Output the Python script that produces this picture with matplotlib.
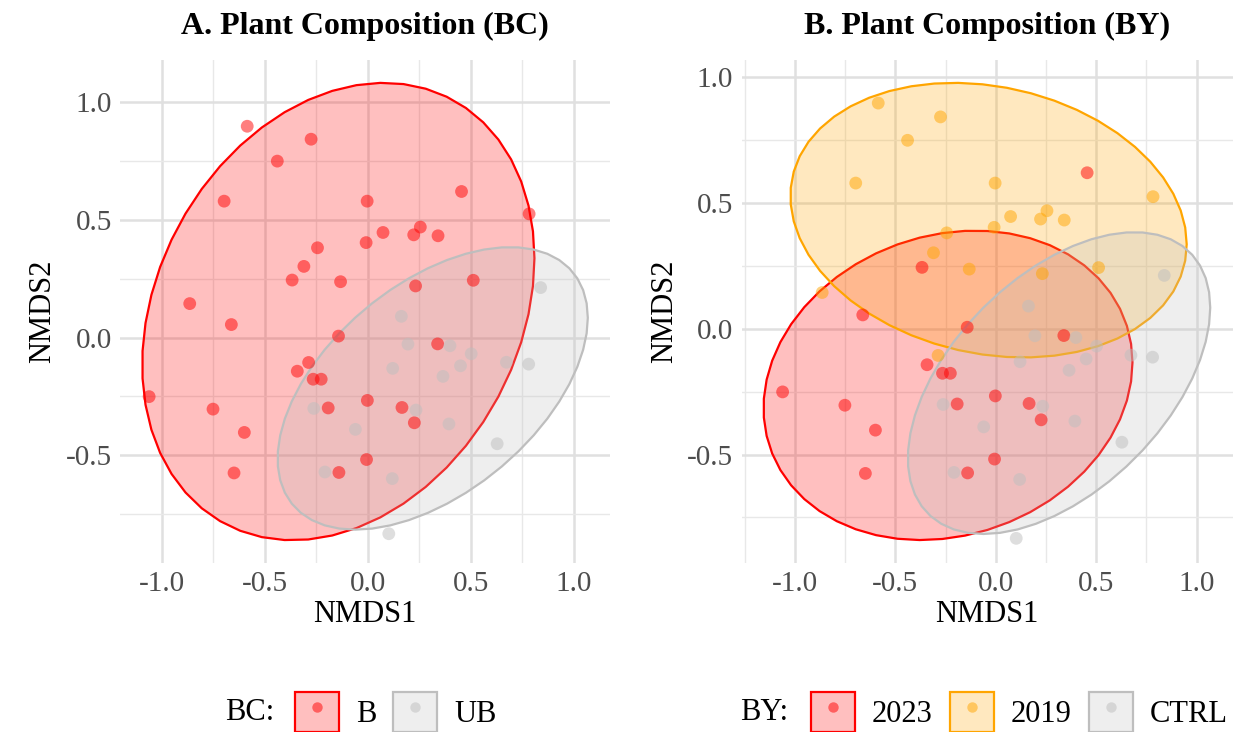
import numpy as np
import matplotlib
matplotlib.use("Agg")
import matplotlib.pyplot as plt
from matplotlib.patches import Patch, Polygon
from matplotlib.lines import Line2D
from matplotlib.legend_handler import HandlerTuple
from matplotlib.ticker import MultipleLocator

plt.rcParams['font.family'] = ['Liberation Serif', 'DejaVu Serif']
plt.rcParams['axes.unicode_minus'] = False

# NMDS scores
x_2019 = [-0.585, -0.275, -0.439, -0.697, -0.003, 0.074, 0.223, 0.255, 0.341,
          -0.008, -0.244, -0.310, -0.132, -0.864, 0.512, 0.232, -0.287, 0.783]
y_2019 = [0.897, 0.842, 0.749, 0.579, 0.579, 0.446, 0.436, 0.469, 0.432,
          0.403, 0.381, 0.302, 0.237, 0.144, 0.243, 0.219, -0.106, 0.525]

x_2023 = [0.455, -0.367, -0.662, -0.142, 0.339, -0.342, -0.265, -0.226, -0.192,
          -0.002, 0.166, 0.226, -0.006, -0.140, -1.061, -0.751, -0.599, -0.649]
y_2023 = [0.620, 0.244, 0.055, 0.006, -0.027, -0.143, -0.177, -0.177, -0.299,
          -0.267, -0.297, -0.362, -0.518, -0.573, -0.251, -0.304, -0.403, -0.575]

x_ctrl = [0.839, 0.163, 0.195, 0.399, 0.502, 0.450, 0.673, 0.781, 0.121,
          0.365, -0.262, 0.234, 0.394, -0.060, 0.628, -0.208, 0.119, 0.102]
y_ctrl = [0.212, 0.090, -0.028, -0.035, -0.069, -0.120, -0.105, -0.113, -0.131,
          -0.165, -0.301, -0.308, -0.367, -0.390, -0.451, -0.571, -0.599, -0.833]

bc_labels = ["B", "UB"]
bc_colors = ["#FF0000", "#BEBEBE"]
by_labels = ["2023", "2019", "CTRL"]
by_colors = ["#FF0000", "#FFA500", "#BEBEBE"]


def cov_trob(xy, nu=5, maxit=25, tol=0.01):
    # same as MASS::cov.trob, used by ggplot stat_ellipse (type = "t")
    n, p = xy.shape
    loc = xy.mean(axis=0)
    w = np.ones(n)
    for _ in range(maxit):
        w0 = w
        X = xy - loc
        _, d, vt = np.linalg.svd(np.sqrt(w / w.sum())[:, None] * X, full_matrices=False)
        wX = X @ vt.T @ np.diag(1 / d)
        Q = (wX ** 2).sum(axis=1)
        w = (nu + p) / (nu + Q)
        loc = (w[:, None] * xy).sum(axis=0) / w.sum()
        if np.all(np.abs(w - w0) < tol):
            break
    sX = np.sqrt(w)[:, None] * X
    return loc, sX.T @ sX / n


def ellipse_path(x, y, level=0.95, segments=51):
    xy = np.column_stack([x, y])
    center, shape = cov_trob(xy)
    m = len(x) - 1
    fq = (m / 2) * ((1 - level) ** (-2 / m) - 1)
    radius = np.sqrt(2 * fq)
    ang = np.linspace(0, 2 * np.pi, segments + 1)
    circle = np.column_stack([np.cos(ang), np.sin(ang)])
    L = np.linalg.cholesky(shape)
    return center + radius * (circle @ L.T)


def panel(ax, groups, colors, title):
    allpts = []
    for (gx, gy), col in zip(groups, colors):
        path = ellipse_path(gx, gy)
        ax.add_patch(Polygon(path, closed=True, facecolor=matplotlib.colors.to_rgba(col, 0.25),
                             edgecolor=col, lw=1.6, zorder=2))
        allpts.append(path)
    for (gx, gy), col in zip(groups, colors):
        ax.scatter(gx, gy, s=85, color=col, alpha=0.5, edgecolors='none', zorder=3)
        allpts.append(np.column_stack([gx, gy]))
    allpts = np.vstack(allpts)
    lo, hi = allpts.min(axis=0), allpts.max(axis=0)
    pad = (hi - lo) * 0.05
    ax.set_xlim(lo[0] - pad[0], hi[0] + pad[0])
    ax.set_ylim(lo[1] - pad[1], hi[1] + pad[1])
    ax.xaxis.set_major_locator(MultipleLocator(0.5))
    ax.yaxis.set_major_locator(MultipleLocator(0.5))
    ax.xaxis.set_minor_locator(MultipleLocator(0.25))
    ax.yaxis.set_minor_locator(MultipleLocator(0.25))
    ax.grid(which='major', color='#E0E0E0', lw=1.8, zorder=0)
    ax.grid(which='minor', color='#E8E8E8', lw=1.0, zorder=0)
    ax.set_axisbelow(True)
    for s in ax.spines.values():
        s.set_visible(False)
    ax.tick_params(which='both', length=0, labelsize=21, labelcolor='#4D4D4D', pad=6)
    ax.set_xlabel("NMDS1", fontsize=22, labelpad=2)
    ax.set_ylabel("NMDS2", fontsize=22, labelpad=6)
    ax.set_title(title, fontsize=23, fontweight='bold', pad=19)


def legend_handles(colors):
    hs = []
    for col in colors:
        box = Patch(facecolor=matplotlib.colors.to_rgba(col, 0.25), edgecolor=col, lw=1.6)
        dot = Line2D([], [], marker='o', ls='none', markersize=7.5, color=col, alpha=0.5,
                     markeredgewidth=0)
        hs.append((box, dot))
    return hs


fig = plt.figure(figsize=(12.4, 7.32), dpi=100)
axA = fig.add_axes([0.097, 0.231, 0.395, 0.687])
axB = fig.add_axes([0.598, 0.231, 0.396, 0.687])

panel(axA, [(x_2019 + x_2023, y_2019 + y_2023), (x_ctrl, y_ctrl)], bc_colors,
      "A. Plant Composition (BC)")
panel(axB, [(x_2023, y_2023), (x_2019, y_2019), (x_ctrl, y_ctrl)], by_colors,
      "B. Plant Composition (BY)")

for title_txt, tx, colors, labels, lx in [("BC:", 0.2016, bc_colors, bc_labels, 0.319),
                                           ("BY:", 0.616, by_colors, by_labels, 0.822)]:
    fig.text(tx, 0.027, title_txt, fontsize=22, ha='center', va='center')
    fig.legend(legend_handles(colors), labels, loc='center', bbox_to_anchor=(lx, 0.027),
               ncol=len(labels), frameon=False, fontsize=22,
               handler_map={tuple: HandlerTuple(ndivide=1, pad=0)},
               handlelength=1.45, handleheight=1.65, handletextpad=0.55,
               columnspacing=0.55, borderpad=0, borderaxespad=0)

fig.savefig("out.png", dpi=100)
